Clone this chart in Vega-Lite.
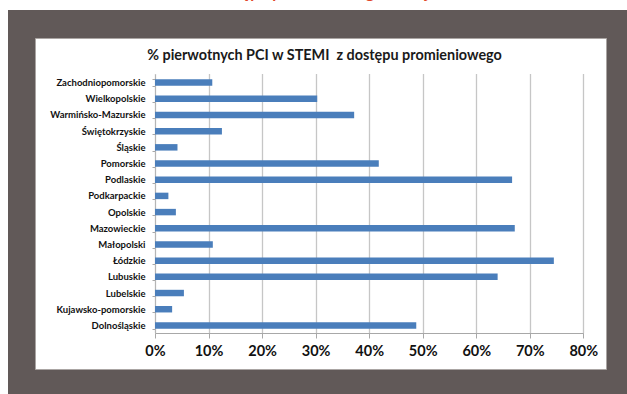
{
  "$schema": "https://vega.github.io/schema/vega-lite/v6.json",
  "background": "#615958",
  "padding": 0,
  "autosize": {"type": "pad"},
  "config": {"view": {"stroke": null}, "font": "Lato"},
  "spacing": 0,
  "bounds": "flush",
  "hconcat": [
    {
      "width": 8,
      "height": 394,
      "view": {"fill": "#ffffff", "stroke": null},
      "data": {"values": []},
      "mark": "point",
      "encoding": {}
    },
    {
      "spacing": 28,
      "bounds": "flush",
      "vconcat": [
        {
          "width": 619,
          "height": 10,
          "view": {"fill": "#ffffff", "stroke": null},
          "data": {"values": [{"naglowek": "Odsetek PCI z dostępu promieniowego w województwach"}]},
          "mark": {"type": "text", "clip": true, "color": "#e2462b", "font": "Lato", "fontSize": 16, "fontWeight": "bold", "baseline": "alphabetic", "dy": -7.5, "dx": -5},
          "encoding": {"text": {"field": "naglowek"}}
        },
        {
          "spacing": 26,
          "bounds": "flush",
          "hconcat": [
            {
              "width": 1,
              "height": 331,
              "data": {"values": []},
              "mark": "point",
              "encoding": {}
            },
            {
              "width": 571,
              "height": 331,
              "view": {"fill": "#ffffff", "stroke": "#aaa5a3", "strokeWidth": 1},
              "title": {
                "text": "% pierwotnych PCI w STEMI\u00a0 z dostępu promieniowego",
                "font": "Lato",
                "fontSize": 14.4,
                "fontWeight": "bold",
                "color": "#1a1a1a",
                "anchor": "middle",
                "offset": -30,
                "dx": 4
              },
              "data": {
                "values": [
                  {"wojewodztwo": "Zachodniopomorskie", "odsetek": 0.107},
                  {"wojewodztwo": "Wielkopolskie", "odsetek": 0.303},
                  {"wojewodztwo": "Warmińsko-Mazurskie", "odsetek": 0.372},
                  {"wojewodztwo": "Świętokrzyskie", "odsetek": 0.125},
                  {"wojewodztwo": "Śląskie", "odsetek": 0.042},
                  {"wojewodztwo": "Pomorskie", "odsetek": 0.418},
                  {"wojewodztwo": "Podlaskie", "odsetek": 0.667},
                  {"wojewodztwo": "Podkarpackie", "odsetek": 0.025},
                  {"wojewodztwo": "Opolskie", "odsetek": 0.039},
                  {"wojewodztwo": "Mazowieckie", "odsetek": 0.672},
                  {"wojewodztwo": "Małopolski", "odsetek": 0.108},
                  {"wojewodztwo": "Łódzkie", "odsetek": 0.745},
                  {"wojewodztwo": "Lubuskie", "odsetek": 0.64},
                  {"wojewodztwo": "Lubelskie", "odsetek": 0.054},
                  {"wojewodztwo": "Kujawsko-pomorskie", "odsetek": 0.032},
                  {"wojewodztwo": "Dolnośląskie", "odsetek": 0.488}
                ]
              },
              "mark": {"type": "bar", "color": "#4a7ebb"},
              "encoding": {
                "y": {
                  "field": "wojewodztwo",
                  "type": "nominal",
                  "sort": null,
                  "scale": {"range": [36.5, 295.5], "paddingInner": 0.6, "paddingOuter": 0.3},
                  "axis": {
                    "title": null,
                    "orient": "left",
                    "offset": -120,
                    "tickBand": "extent",
                    "tickSize": 3,
                    "tickColor": "#a8a8a8",
                    "domainColor": "#b5b5b5",
                    "grid": false,
                    "labelFont": "Lato",
                    "labelFontSize": 9.5,
                    "labelFontWeight": "bold",
                    "labelColor": "#111111",
                    "labelPadding": 7,
                    "labelLimit": 0
                  }
                },
                "x": {
                  "field": "odsetek",
                  "type": "quantitative",
                  "scale": {"domain": [0, 0.8], "range": [120, 548.3], "nice": false, "zero": true},
                  "axis": {
                    "title": null,
                    "orient": "bottom",
                    "offset": -36,
                    "values": [0, 0.1, 0.2, 0.3, 0.4, 0.5, 0.6, 0.7, 0.8],
                    "format": ".0%",
                    "grid": true,
                    "gridColor": "#c6c6c6",
                    "gridWidth": 1.3,
                    "tickSize": 5,
                    "tickColor": "#a8a8a8",
                    "domainColor": "#a8a8a8",
                    "labelFont": "Lato",
                    "labelFontSize": 14.5,
                    "labelFontWeight": "bold",
                    "labelColor": "#111111",
                    "labelPadding": 6,
                    "labelFlush": false
                  }
                }
              }
            }
          ]
        }
      ]
    }
  ]
}
